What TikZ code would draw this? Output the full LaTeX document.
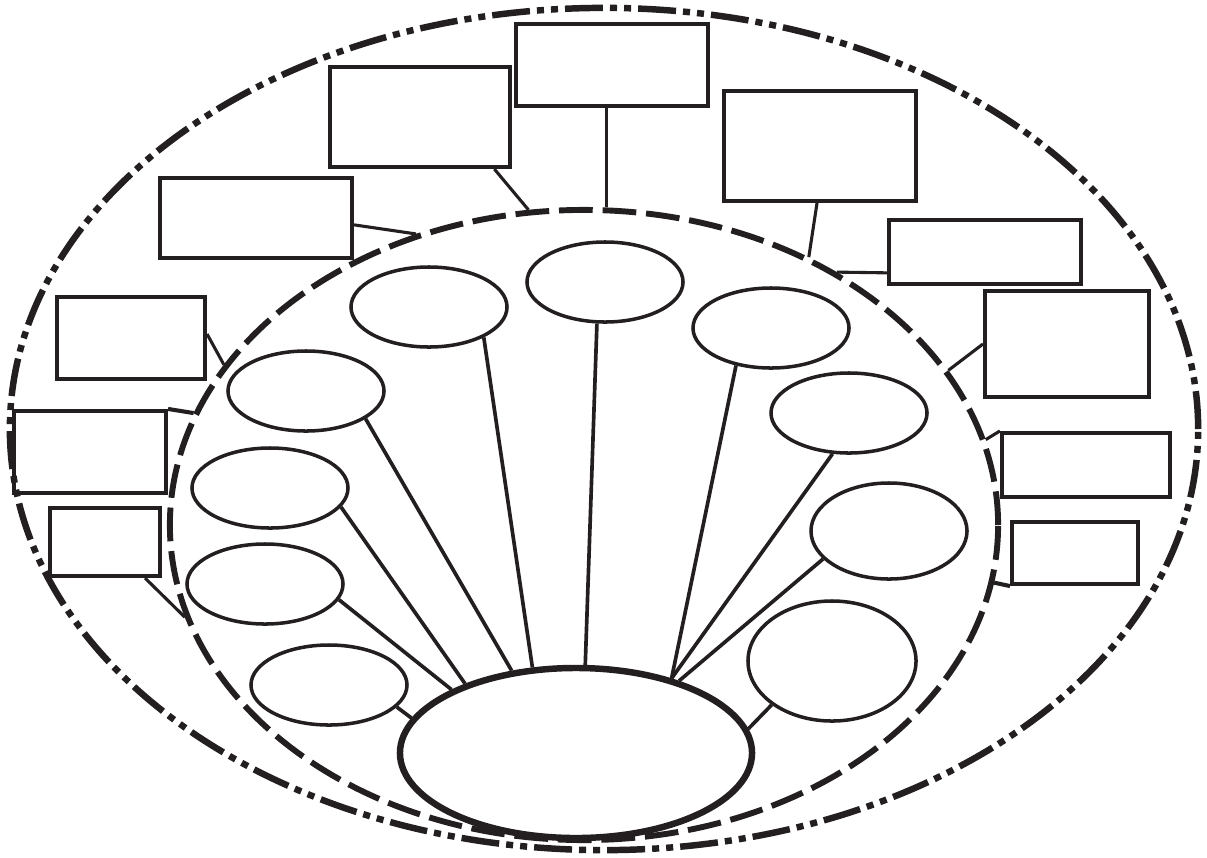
\documentclass[tikz,border=0pt]{standalone}
\usepackage{tikz}
\usetikzlibrary{shapes.geometric}
\definecolor{inkblack}{HTML}{231F20}

\begin{document}
\begin{tikzpicture}[
    x=0.025cm, y=-0.025cm,
    outerring/.style={ellipse, draw=inkblack, line width=4.6pt, inner sep=0pt,
                dash pattern=on 27pt off 5pt on 5pt off 5pt on 5pt off 5pt},
    innerring/.style={ellipse, draw=inkblack, line width=4.2pt, inner sep=0pt,
                dash pattern=on 24pt off 7pt},
    bigell/.style={ellipse, draw=inkblack, line width=4.6pt, inner sep=0pt,
                minimum width=8.8cm, minimum height=4.25cm},
    topic/.style={ellipse, draw=inkblack, line width=2.5pt, inner sep=0pt,
                minimum width=3.9cm, minimum height=2cm},
    card/.style={rectangle, draw=inkblack, line width=2.9pt, inner sep=0pt},
    spoke/.style={draw=inkblack, line width=2.6pt},
    link/.style={draw=inkblack, line width=2.2pt},
]
\useasboundingbox (0,0) rectangle (1207,857);

% --- rings ---
\node[outerring, minimum width=29.7cm, minimum height=21.05cm] (outer) at (604,429) {};
\node[innerring, minimum width=20.7cm, minimum height=15.75cm] (inner) at (584,525) {};

% --- central ellipse ---
\node[bigell] (hub) at (576,753) {};

% --- small ellipses ---
\node[topic] (e1) at (429,307) {};
\node[topic] (e2) at (605,282) {};
\node[topic] (e3) at (771,328) {};
\node[topic] (e4) at (306,391) {};
\node[topic] (e5) at (849,413) {};
\node[topic] (e6) at (270,488) {};
\node[topic, minimum height=2.4cm] (e7) at (889,531) {};
\node[topic] (e8) at (265,584) {};
\node[topic] (e9) at (329,685) {};
\node[topic, minimum width=4.2cm, minimum height=3cm] (e10) at (832,661) {};

% --- boxes ---
\node[card, minimum width=4.8cm, minimum height=2.05cm] (r1) at (612,65) {};
\node[card, minimum width=4.5cm, minimum height=2.5cm] (r2) at (420,117) {};
\node[card, minimum width=4.8cm, minimum height=2.75cm] (r3) at (820,146) {};
\node[card, minimum width=4.8cm, minimum height=2.0cm] (r4) at (256,218) {};
\node[card, minimum width=4.8cm, minimum height=1.6cm] (r5) at (985,252) {};
\node[card, minimum width=3.7cm, minimum height=2.05cm] (r6) at (131,338) {};
\node[card, minimum width=4.1cm, minimum height=2.65cm] (r7) at (1067,344) {};
\node[card, minimum width=3.8cm, minimum height=2.05cm] (r8) at (90,452) {};
\node[card, minimum width=4.2cm, minimum height=1.6cm] (r9) at (1086,465) {};
\node[card, minimum width=2.75cm, minimum height=1.7cm] (r10) at (105,542) {};
\node[card, minimum width=3.15cm, minimum height=1.55cm] (r11) at (1075,553) {};

% ============== spokes ==============
\draw[spoke] (e1.-29) -- (hub.117);
\draw[spoke] (e2.-101) -- (hub.84);
\draw[spoke] (e3.-133) -- (hub.38);
\draw[spoke] (e4.-25) -- (hub.128);
\draw[spoke] (e5.-112) -- (hub.38);
\draw[spoke] (e6.-15) -- (hub.148);
\draw[spoke] (e7.-157) -- (hub.35);
\draw[spoke] (e8.-12) -- (hub.153);
\draw[spoke] (e9.-18) -- (hub.168);
\draw[spoke] (e10.-144) -- (hub.8);

% --- box links to inner ring ---
\draw[link] (inner.86 |- r1.south) -- (inner.86);
\draw[link] (r2.-35) -- (inner.100);
\draw[link] (r3.-93) -- (inner.50);
\draw[link] (r4.-4) -- (inner.120);
\draw[link] (r5.-168) -- (inner.45);
\draw[link] (r6.3) -- (inner.156);
\draw[link] (r7.west) -- (inner.23);
\draw[link, line width=2.9pt] (r8.north east) -- (inner.164);
\draw[link] (r9.north west) -- (inner.12);
\draw[link] (r10.-42) -- (inner.-167);
\draw[link, line width=2.9pt] (r11.south west) -- (inner.-8);

\end{tikzpicture}
\end{document}
